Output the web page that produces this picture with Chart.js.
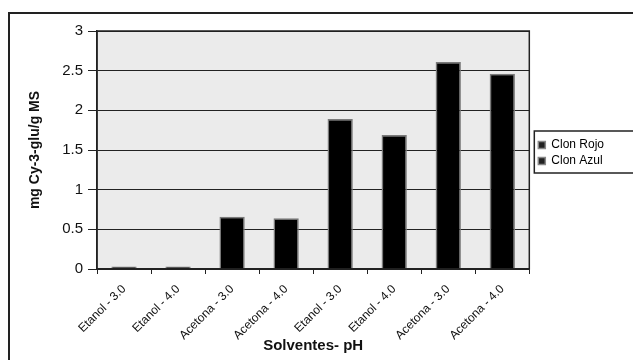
<!DOCTYPE html>
<html>
<head>
<meta charset="utf-8">
<script src="https://cdn.jsdelivr.net/npm/chart.js@4/dist/chart.umd.min.js"></script>
<style>
  html, body { margin: 0; padding: 0; background: #fff; }
  #wrap { position: relative; width: 633px; height: 360px; }
  #frame { position: absolute; left: 8px; top: 12px; right: 0; bottom: 0;
           border-top: 2px solid #222; border-left: 2px solid #222; }
  canvas { position: absolute; left: 0; top: 0; }
</style>
</head>
<body>
<div id="wrap">
  <div id="frame"></div>
  <canvas id="anthoChart" width="633" height="360"></canvas>
</div>
<script>
// values
const categories = [
  'Etanol - 3.0', 'Etanol - 4.0', 'Acetona - 3.0', 'Acetona - 4.0',
  'Etanol - 3.0', 'Etanol - 4.0', 'Acetona - 3.0', 'Acetona - 4.0'
];
const clonRojo = [0.03, 0.03, 0.66, 0.64, null, null, null, null];
const clonAzul = [null, null, null, null, 1.89, 1.69, 2.61, 2.46];
const yTicks = [0, 0.5, 1, 1.5, 2, 2.5, 3];

const FONT = 'Liberation Sans, Arial, sans-serif';

// grey plot background, plot border and legend frame
const decor = {
  id: 'decor',
  afterLayout(chart) {
    // nudge the legend a little away from the plot
    const lg = chart.legend;
    lg.left += 5; lg.right += 5;
    lg.top += 3; lg.bottom += 3;
  },
  beforeDraw(chart) {
    const { ctx, chartArea: a } = chart;
    ctx.save();
    ctx.fillStyle = '#ebebeb';
    ctx.fillRect(a.left, a.top, a.right - a.left, a.bottom - a.top);
    ctx.restore();
  },
  afterDraw(chart) {
    const { ctx, chartArea: a } = chart;
    ctx.save();
    ctx.strokeStyle = '#222';
    ctx.lineWidth = 1.5;
    ctx.strokeRect(a.left, a.top, a.right - a.left, a.bottom - a.top);
    const hb = chart.legend.legendHitBoxes;
    if (hb && hb.length) {
      const first = hb[0], last = hb[hb.length - 1];
      const top = first.top - 8;
      const bottom = last.top + last.height + 6;
      const left = chart.legend.left;
      ctx.strokeRect(left, top, chart.width + 10 - left, bottom - top);
    }
    ctx.restore();
  }
};

new Chart(document.getElementById('anthoChart').getContext('2d'), {
  type: 'bar',
  data: {
    labels: categories,
    datasets: [{
      label: 'Clon Rojo',
      data: clonRojo,
      backgroundColor: '#000',
      borderColor: '#7a7a7a',
      borderWidth: 1.5,
      grouped: false,
      categoryPercentage: 0.9,
      barPercentage: 0.52
    }, {
      label: 'Clon Azul',
      data: clonAzul,
      backgroundColor: '#000',
      borderColor: '#7a7a7a',
      borderWidth: 1.5,
      grouped: false,
      categoryPercentage: 0.9,
      barPercentage: 0.52
    }]
  },
  options: {
    responsive: false,
    animation: false,
    layout: { padding: { top: 31, right: 24, bottom: 5, left: 0 } },
    plugins: {
      legend: {
        position: 'right',
        align: 'center',
        fullSize: false,
        labels: {
          boxWidth: 7,
          boxHeight: 7,
          padding: 4,
          color: '#111',
          font: { family: FONT, size: 12 },
          generateLabels(chart) {
            return chart.data.datasets.map((ds, i) => ({
              text: ds.label,
              fillStyle: '#222',
              strokeStyle: '#888',
              lineWidth: 1.5,
              datasetIndex: i
            }));
          }
        }
      },
      tooltip: { enabled: false }
    },
    scales: {
      x: {
        grid: { display: true, drawOnChartArea: false, drawTicks: true, tickLength: 5, color: '#222', offset: true },
        border: { display: true, color: '#222', width: 1.5 },
        ticks: {
          minRotation: 45, maxRotation: 45, autoSkip: false,
          color: '#111', font: { family: FONT, size: 12 }, padding: 8
        },
        title: {
          display: true, text: 'Solventes- pH', color: '#111',
          font: { family: FONT, size: 15, weight: 'bold' }, padding: { top: 0, bottom: 0 }
        },
        afterFit(scale) { scale.height = 86; }
      },
      y: {
        min: 0, max: 3,
        afterBuildTicks(scale) { scale.ticks = yTicks.map(v => ({ value: v })); },
        grid: { color: '#222', lineWidth: 1, tickLength: 9, drawTicks: true },
        border: { display: true, color: '#222', width: 1.5 },
        ticks: {
          color: '#111', font: { family: FONT, size: 15 }, padding: 5,
          callback: v => String(v)
        },
        title: {
          display: true, text: 'mg Cy-3-glu/g MS', color: '#111',
          font: { family: FONT, size: 14, weight: 'bold' }, padding: { top: 27, bottom: 0 }
        },
        afterFit(scale) { scale.width = 97; }
      }
    }
  },
  plugins: [decor]
});
</script>
</body>
</html>
